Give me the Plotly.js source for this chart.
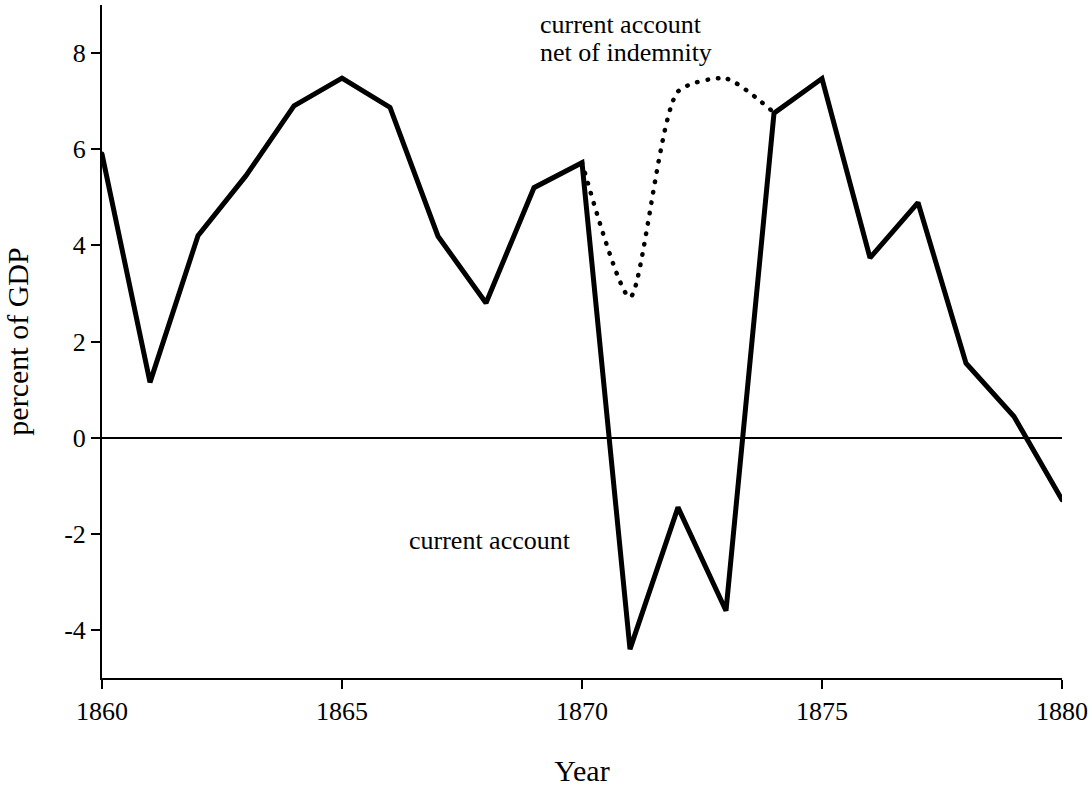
<!DOCTYPE html>
<html>
<head>
<meta charset="utf-8">
<script src="https://cdn.plot.ly/plotly-3.0.1.min.js"></script>
<style>
  html, body { margin: 0; padding: 0; background: #fff; }
  #chart { width: 1090px; height: 787px; }
  .js-line { stroke-linecap: round !important; }
</style>
</head>
<body>
<div id="chart"></div>
<script>
// Data
const years = [1860, 1861, 1862, 1863, 1864, 1865, 1866, 1867, 1868, 1869, 1870,
               1871, 1872, 1873, 1874, 1875, 1876, 1877, 1878, 1879, 1880];
const currentAccount = [5.9, 1.15, 4.2, 5.45, 6.9, 7.48, 6.87, 4.19, 2.8, 5.2, 5.72,
                        -4.4, -1.45, -3.6, 6.75, 7.47, 3.74, 4.89, 1.55, 0.44, -1.29];
const netYears = [1870, 1871, 1872, 1873, 1874];
const netOfIndemnity = [5.72, 2.92, 7.2, 7.47, 6.76];
const xTicks = [1860, 1865, 1870, 1875, 1880];
const yTicks = [-4, -2, 0, 2, 4, 6, 8];

const FONT = '"Liberation Serif", "Times New Roman", serif';

const traces = [
  {
    x: netYears, y: netOfIndemnity, type: 'scatter', mode: 'lines',
    line: { color: '#000', width: 4.5, dash: '0.5px,10px', shape: 'spline', smoothing: 0.65 },
    hoverinfo: 'skip', showlegend: false
  },
  {
    x: years, y: currentAccount, type: 'scatter', mode: 'lines',
    line: { color: '#000', width: 5 },
    hoverinfo: 'skip', showlegend: false
  }
];

const layout = {
  width: 1090, height: 787,
  margin: { l: 102, r: 28, t: 5, b: 109 },
  paper_bgcolor: '#fff', plot_bgcolor: '#fff',
  font: { family: FONT, color: '#000', size: 26 },
  showlegend: false,
  xaxis: {
    range: [1860, 1880], tickvals: xTicks, ticktext: xTicks.map(String),
    showgrid: false, zeroline: false, showline: true, linecolor: '#000', linewidth: 2,
    ticks: 'outside', ticklen: 9, tickwidth: 2, tickcolor: '#000',
    tickfont: { family: FONT, size: 26, color: '#000' },
    title: { text: 'Year', font: { family: FONT, size: 30, color: '#000' }, standoff: 36 }
  },
  yaxis: {
    range: [-5, 9], tickvals: yTicks, ticktext: yTicks.map(String),
    showgrid: false, zeroline: true, zerolinecolor: '#000', zerolinewidth: 2,
    showline: true, linecolor: '#000', linewidth: 2,
    ticks: 'outside', ticklen: 9, tickwidth: 2, tickcolor: '#000',
    tickfont: { family: FONT, size: 26, color: '#000' },
    title: { text: 'percent of GDP', font: { family: FONT, size: 30, color: '#000' }, standoff: 27 }
  },
  annotations: [
    { x: 1869.08, y: 8.6, xref: 'x', yref: 'y', xanchor: 'left', yanchor: 'middle',
      text: 'current account', showarrow: false, font: { family: FONT, size: 26, color: '#000' } },
    { x: 1869.08, y: 8.02, xref: 'x', yref: 'y', xanchor: 'left', yanchor: 'middle',
      text: 'net of indemnity', showarrow: false, font: { family: FONT, size: 26, color: '#000' } },
    { x: 1868.08, y: -2.13, xref: 'x', yref: 'y', xanchor: 'center', yanchor: 'middle',
      text: 'current account', showarrow: false, font: { family: FONT, size: 26, color: '#000' } }
  ]
};

Plotly.newPlot('chart', traces, layout, { staticPlot: true, displayModeBar: false });
</script>
</body>
</html>
